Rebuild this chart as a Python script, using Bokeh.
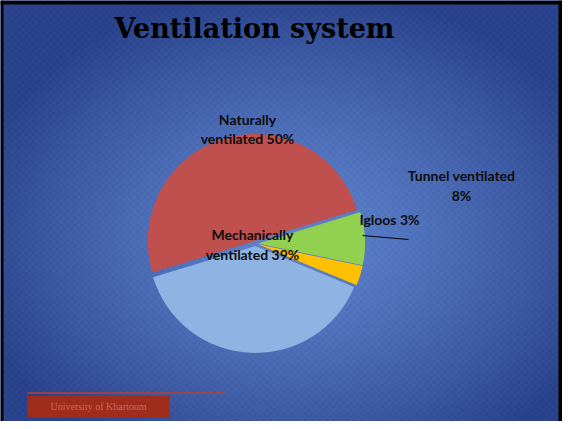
import numpy as np
from bokeh.plotting import figure
from bokeh.models import Range1d, ColumnDataSource
from bokeh.core.properties import value
from bokeh.embed import file_html
from bokeh.resources import INLINE

# ---- data ----
title = "Ventilation system"
categories = ["Naturally ventilated", "Tunnel ventilated", "Igloos", "Mechanically ventilated"]
values = [50, 8, 3, 39]
label_texts = ["Naturally\nventilated 50%", "Tunnel ventilated\n8%", "Igloos 3%", "Mechanically\nventilated 39%"]
colors = ["#C0504D", "#92D050", "#FFC000", "#8DB4E2"]
footer = "University of Khartoum"

# ---- layout (screen-like coordinates: x right, y = 429 - screen_y) ----
W, H = 562, 421
def Y(sy):
    return 429 - sy

p = figure(width=W, height=H, output_backend="svg", toolbar_location=None,
           x_range=Range1d(8, 570), y_range=Range1d(0, 421))
p.min_border = 0
p.xaxis.visible = False
p.yaxis.visible = False
p.grid.visible = False
p.outline_line_color = None
p.background_fill_color = "#3A58A2"
p.border_fill_color = "#3A58A2"

# background gradient
ny, nx = H, W
sy, sx = np.mgrid[0:ny, 0:nx]
sx = sx + 8
sy = sy + 8
d = np.sqrt(((sx - 300) / 330.0) ** 2 + ((sy - 245) / 250.0) ** 2)
t = np.clip(d, 0, 1) ** 1.4
c0 = np.array([0x5E, 0x82, 0xCC], dtype=float)
c1 = np.array([0x2A, 0x43, 0x8C], dtype=float)
rgb = c0[None, None, :] * (1 - t[..., None]) + c1[None, None, :] * t[..., None]
tex = ((np.sin(sx * 0.9) * np.sin(sy * 0.9)) * 4.0)[..., None]
rgb = np.clip(rgb + tex, 0, 255).astype(np.uint32)
img = (255 << 24) | (rgb[..., 2] << 16) | (rgb[..., 1] << 8) | rgb[..., 0]
img = np.flipud(img).astype(np.uint32)
p.image_rgba(image=[img], x=8, y=0, dw=W, dh=H)

# black frame (left, top, right)
p.quad(left=[8, 8, 566], right=[11, 570, 570], bottom=[Y(429), Y(12), Y(429)],
       top=[Y(8), Y(8), Y(8)], fill_color="black", line_color=None)

# pie
cx, cy, R, start, explode = 263, Y(251), 107, np.deg2rad(197), 2.5
vals = np.array(values, dtype=float)
frac = vals / vals.sum()
cum_end = np.cumsum(frac)
cum_start = cum_end - frac
start_angles = start - cum_end * 2 * np.pi
end_angles = start - cum_start * 2 * np.pi
mids = (start_angles + end_angles) / 2
src = ColumnDataSource(dict(
    x=cx + explode * np.cos(mids), y=cy + explode * np.sin(mids),
    sa=start_angles, ea=end_angles, color=colors, cat=categories))
p.wedge(x="x", y="y", radius=R, start_angle="sa", end_angle="ea",
        fill_color="color", line_color=None, source=src)

# leader line for Igloos
p.line(x=[370, 416], y=[Y(243), Y(247)], line_color="black", line_width=1)

# labels
lab_x = [255, 469, 397, 260]
lab_y = [Y(136.5), Y(193), Y(227), Y(252)]
p.text(x=lab_x, y=lab_y, text=label_texts, text_font=value("Lato"),
       text_font_style="bold", text_font_size="14px", text_align="center",
       text_baseline="middle", text_color="#0D0D0D", text_line_height=1.15)

# title
p.text(x=[262], y=[Y(36)], text=[title], text_font=value("DejaVu Serif"),
       text_font_style="bold", text_font_size="27px", text_align="center",
       text_baseline="middle", text_color="black")

# footer banner
p.line(x=[35, 232], y=[Y(400.5), Y(400.5)], line_color="#B8402E", line_width=1.5)
p.quad(left=[35], right=[177], bottom=[Y(425)], top=[Y(403.5)],
       fill_color="#A02C1C", line_color=None)
p.text(x=[106], y=[Y(414)], text=[footer], text_font=value("Liberation Serif"),
       text_font_size="10px", text_align="center", text_baseline="middle",
       text_color="#D87A6E", text_alpha=0.8)

open("out.html", "w").write(file_html(p, INLINE))
